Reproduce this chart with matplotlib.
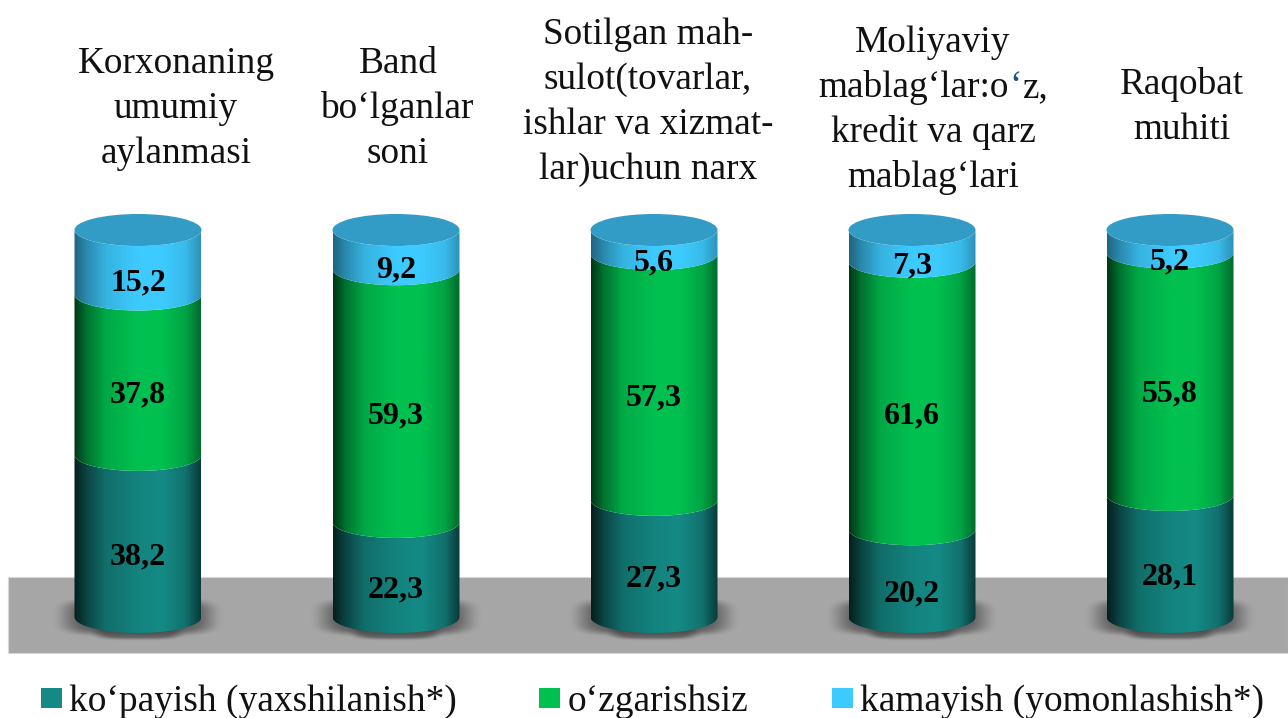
import numpy as np
import matplotlib
matplotlib.use("Agg")
import matplotlib.pyplot as plt
from matplotlib.patches import Rectangle, Ellipse, PathPatch
from matplotlib.path import Path
from matplotlib.colors import to_rgb

plt.rcParams['font.family'] = ['Liberation Serif', 'DejaVu Serif']

categories = [
    ["Korxonaning", "umumiy", "aylanmasi"],
    ["Band", "bo‘lganlar", "soni"],
    ["Sotilgan mah-", "sulot(tovarlar,", "ishlar va xizmat-", "lar)uchun narx"],
    ["Moliyaviy", "mablag‘lar:o‘z,", "kredit va qarz", "mablag‘lari"],
    ["Raqobat", "muhiti"],
]
series_names = ["ko‘payish (yaxshilanish*)", "o‘zgarishsiz", "kamayish (yomonlashish*)"]
increase = [38.2, 22.3, 27.3, 20.2, 28.1]
unchanged = [37.8, 59.3, 57.3, 61.6, 55.8]
decrease = [15.2, 9.2, 5.6, 7.3, 5.2]
series = [increase, unchanged, decrease]
colors = ["#158a85", "#00c050", "#3dcbff"]
cap_color = "#339cc6"
heading_centres = [176, 398, 648, 933, 1182]
heading_baseline = [73, 73, 44, 52, 94]

W, H = 1288, 718
fig = plt.figure(figsize=(W / 100, H / 100), dpi=100, facecolor="white")
ax = fig.add_axes([0, 0, 1, 1])

PX_X = 258.0
PX_Y = 3.87
ax.set_xlim(-138 / PX_X, (W - 138) / PX_X)
ax.set_ylim(-(H - 617) / PX_Y, 617 / PX_Y)
ax.axis("off")

hw = 63.5 / PX_X
ry = 16.0 / PX_Y


def px(x_px, y_px):
    return ax.transData.inverted().transform((x_px, H - y_px))


(x0f, y0f), (x1f, y1f) = px(8, 653), px(W, 577)
ax.add_patch(Rectangle((x0f, y0f), x1f - x0f, y1f - y0f, fc="#a6a6a6", ec="#d8d8d8", lw=0.8, zorder=1))

sx = np.linspace(-1, 1, 180)
sy = np.linspace(-1, 1, 90)
gx, gy = np.meshgrid(sx, sy)
rr = (np.abs(gx) ** 4 + np.abs(gy) ** 4) ** (1 / 4)
soft = np.clip((1 - rr) / 0.36, 0, 1)
soft = soft * soft * (3 - 2 * soft)
shadow = np.zeros(gx.shape + (4,))
shadow[..., :3] = 0.25
shadow[..., 3] = 0.65 * soft
for i in range(len(categories)):
    ax.imshow(shadow, extent=(i - 88 / PX_X, i + 88 / PX_X, -21 / PX_Y, 21 / PX_Y),
              aspect="auto", zorder=2, interpolation="bilinear")
    ax.imshow(shadow, extent=(i - 50 / PX_X, i + 50 / PX_X, -24 / PX_Y, 0),
              aspect="auto", zorder=2, interpolation="bilinear")


def gradient(color, lev):
    t = np.linspace(0, 1, 256)
    pts = [0, 0.10, 0.25, 0.50, 0.70, 0.88, 1.0]
    f = np.interp(t, pts, lev)
    c = np.array(to_rgb(color))
    return (f[:, None] * c)[None, :, :]


levels = [
    [0.22, 0.50, 0.80, 0.95, 1.00, 0.82, 0.42],
    [0.28, 0.60, 0.88, 1.00, 1.00, 0.85, 0.55],
    [0.50, 0.68, 0.88, 1.00, 1.00, 0.92, 0.72],
]


def face_path(cx, y0, y1):
    th = np.linspace(np.pi, 2 * np.pi, 60)
    xb = cx + hw * np.cos(th)
    yb = y0 + ry * np.sin(th)
    yt = y1 + ry * np.sin(th)
    verts = np.vstack([np.c_[xb, yb], np.c_[xb[::-1], yt[::-1]], [[xb[0], yb[0]]]])
    codes = [Path.MOVETO] + [Path.LINETO] * (len(verts) - 2) + [Path.CLOSEPOLY]
    return Path(verts, codes)


for i in range(len(categories)):
    vals = [s[i] for s in series]
    total = sum(vals)
    bottom = 0.0
    for j, v in enumerate(vals):
        share = v / total * 100
        path = PathPatch(face_path(i, bottom, bottom + share), transform=ax.transData, fc="none", ec="none")
        ax.add_patch(path)
        im = ax.imshow(gradient(colors[j], levels[j]), extent=(i - hw, i + hw, bottom - ry - 1, bottom + share + 1),
                       aspect="auto", zorder=3, interpolation="bilinear")
        im.set_clip_path(path)
        ax.text(i, bottom + share / 2 - 20.5 / PX_Y, f"{v:.1f}".replace(".", ","), ha="center", va="center",
                fontsize=23, fontweight="bold", color="black", zorder=5)
        bottom += share
    ax.add_patch(Ellipse((i, 100), 2 * hw, 2 * ry, fc=cap_color, ec="none", zorder=4))

ax.set_xlim(-138 / PX_X, (W - 138) / PX_X)
ax.set_ylim(-(H - 617) / PX_Y, 617 / PX_Y)

TITLE_FS = 26.8
line_px = 45
r = fig.canvas.get_renderer()


def text_width(s):
    t = ax.text(0, 0, s, fontsize=TITLE_FS)
    w = t.get_window_extent(r).width
    t.remove()
    return w


for i, lines in enumerate(categories):
    for k, line in enumerate(lines):
        y_px = heading_baseline[i] + k * line_px
        if i == 3 and k == 1:
            # this heading line has one coloured apostrophe: draw it in three runs
            cut = line.rindex("‘")
            left = heading_centres[i] - text_width(line) / 2
            runs = [(0, cut, "#111111"), (cut, cut + 1, "#1f4e8c"), (cut + 1, len(line), "#111111")]
            for start, end, col in runs:
                offset = text_width(line[:start]) if start else 0.0
                xd, yd = px(left + offset, y_px)
                ax.text(xd, yd, line[start:end], ha="left", va="baseline", fontsize=TITLE_FS, color=col, zorder=6)
        else:
            xd, yd = px(heading_centres[i], y_px)
            ax.text(xd, yd, line, ha="center", va="baseline", fontsize=TITLE_FS, color="#111111", zorder=6)

leg_box_x = [41, 539, 832]
leg_text_x = [69, 568, 860]
for name, c, bx, tx in zip(series_names, colors, leg_box_x, leg_text_x):
    (xa, ya), (xb, yb) = px(bx, 708), px(bx + 21, 688)
    ax.add_patch(Rectangle((xa, ya), xb - xa, yb - ya, fc=c, ec="none", zorder=6))
    xd, yd = px(tx, 702)
    ax.text(xd, yd, name, ha="left", va="center", fontsize=26.9, color="#111111", zorder=6)

fig.savefig("out.png", dpi=100)
